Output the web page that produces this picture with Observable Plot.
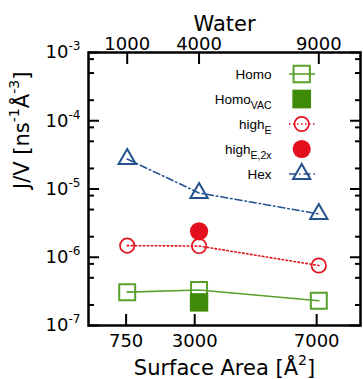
<!DOCTYPE html>
<html>
<head>
<meta charset="utf-8">
<script src="https://cdn.jsdelivr.net/npm/d3@7"></script>
<script src="https://cdn.jsdelivr.net/npm/@observablehq/plot@0.6"></script>
<style>
  html, body { margin: 0; padding: 0; background: #ffffff; }
  svg { display: block; }
</style>
</head>
<body>
<div id="chart"></div>
<script>
// ---- data ----
const waterCounts = [1000, 4000, 9000];          // top axis: number of waters
const homo        = [3.08e-7, 3.31e-7, 2.30e-7];
const homoVacWater = [4000];
const homoVac      = [2.18e-7];
const highE       = [1.48e-6, 1.46e-6, 7.57e-7];
const highE2xWater = [4000];
const highE2x      = [2.40e-6];
const hex         = [2.75e-5, 8.75e-6, 4.31e-6];

const waterTicks = [1000, 4000, 9000];
const areaTicks  = [750, 3000, 7000];            // bottom axis: surface area [Å²]
const waterPerArea = 1.273;                      // relation between bottom and top axes
const yMajor = [1e-7, 1e-6, 1e-5, 1e-4, 1e-3];
const yMinor = [2e-7, 5e-7, 8e-7, 2e-6, 5e-6, 8e-6, 2e-5, 5e-5, 8e-5, 2e-4, 5e-4, 8e-4];

const legendLabels = ["Homo", "Homo_{VAC}", "high_{E}", "high_{E,2x}", "Hex"];

const green = "#58a02a", darkGreen = "#3f8a06", red = "#e2101c", blue = "#23528f";

const rows = waterCounts.map((w, i) => ({w, homo: homo[i], highE: highE[i], hex: hex[i]}));
const vacRows = homoVacWater.map((w, i) => ({w, v: homoVac[i]}));
const e2xRows = highE2xWater.map((w, i) => ({w, v: highE2x[i]}));

const chart = Plot.plot({
  width: 363,
  height: 379,
  marginLeft: 88,
  marginRight: 3,
  marginTop: 52,
  marginBottom: 54,
  style: {fontFamily: "DejaVu Sans", background: "#ffffff", color: "#000"},
  x: {type: "linear", domain: [-616, 10741], axis: null},
  y: {type: "log", domain: [1e-7, 1e-3], axis: null},
  marks: [
    // ticks (inward)
    Plot.axisY({anchor: "left", ticks: yMajor, tickSize: -11, tickFormat: () => "", strokeWidth: 2, label: null}),
    Plot.axisY({anchor: "left", ticks: yMinor, tickSize: -6, tickFormat: () => "", strokeWidth: 2, label: null}),
    Plot.axisY({anchor: "right", ticks: yMajor, tickSize: -11, tickFormat: () => "", strokeWidth: 2, label: null}),
    Plot.axisY({anchor: "right", ticks: yMinor, tickSize: -6, tickFormat: () => "", strokeWidth: 2, label: null}),
    Plot.axisX({anchor: "top", ticks: waterTicks, tickSize: -11, tickFormat: () => "", strokeWidth: 2, label: null}),
    Plot.axisX({anchor: "bottom", ticks: areaTicks.map(a => a * waterPerArea), tickSize: -11, tickFormat: () => "", strokeWidth: 2, label: null}),
    // tick labels
    Plot.axisY({anchor: "left", ticks: yMajor, tickSize: 0, tickPadding: 8, fontSize: 18, label: null,
      tickFormat: d => `10^{${Math.round(Math.log10(d))}}`}),
    Plot.axisX({anchor: "top", ticks: waterTicks, tickSize: 0, tickPadding: 3, fontSize: 18, label: null,
      tickFormat: d => String(d)}),
    Plot.axisX({anchor: "bottom", ticks: areaTicks.map(a => a * waterPerArea), tickSize: 0, tickPadding: 9, fontSize: 18, label: null,
      tickFormat: d => String(Math.round(d / waterPerArea))}),
    // axis titles
    Plot.text(["Water"], {frameAnchor: "top", lineAnchor: "bottom", dy: -22, fontSize: 21}),
    Plot.text(["Surface Area [Å^{2}]"], {frameAnchor: "bottom", lineAnchor: "bottom", dy: 49, fontSize: 21}),
    Plot.text(["J/V [ns^{-1}Å^{-3}]"], {frameAnchor: "left", lineAnchor: "bottom", rotate: -90, dx: -60, fontSize: 21}),
    // series lines
    Plot.line(rows, {x: "w", y: "homo", stroke: green, strokeWidth: 1.6}),
    Plot.line(rows, {x: "w", y: "highE", stroke: red, strokeWidth: 1.6, strokeDasharray: "1.5 2.5"}),
    Plot.line(rows, {x: "w", y: "hex", stroke: blue, strokeWidth: 1.6, strokeDasharray: "7 3 1.5 3"}),
    // symbols
    Plot.dot(rows, {x: "w", y: "homo", symbol: "square", r: 9, fill: "none", stroke: green, strokeWidth: 2}),
    Plot.dot(rows, {x: "w", y: "highE", symbol: "circle", r: 7.2, fill: "none", stroke: red, strokeWidth: 1.7}),
    Plot.dot(rows, {x: "w", y: "hex", symbol: "triangle", r: 6.4, fill: "none", stroke: blue, strokeWidth: 2}),
    Plot.dot(vacRows, {x: "w", y: "v", symbol: "square", r: 10.4, fill: darkGreen, stroke: "none"}),
    Plot.dot(e2xRows, {x: "w", y: "v", symbol: "circle", r: 9.1, fill: red, stroke: "none"}),
    Plot.frame({stroke: "#000", strokeWidth: 2.5})
  ]
});

document.getElementById("chart").appendChild(chart);

// rich text: ^{...} superscript, _{...} subscript
function rich(el, str, fs, opt = {}) {
  const supShift = opt.sup ?? 0.44, subShift = opt.sub ?? 0.36, small = opt.small ?? 0.67;
  const t = d3.select(el);
  t.text(null);
  const re = /([\^_])\{([^}]*)\}/g;
  let last = 0, cur = 0, m;
  const parts = [];
  while ((m = re.exec(str))) {
    if (m.index > last) parts.push({s: str.slice(last, m.index), k: "n"});
    parts.push({s: m[2], k: m[1] === "^" ? "sup" : "sub"});
    last = re.lastIndex;
  }
  if (last < str.length) parts.push({s: str.slice(last), k: "n"});
  for (const p of parts) {
    const target = p.k === "sup" ? -supShift * fs : p.k === "sub" ? subShift * fs : 0;
    const ts = t.append("tspan").text(p.s);
    if (target !== cur) ts.attr("dy", target - cur);
    if (p.k !== "n") ts.attr("font-size", small * fs);
    cur = target;
  }
}

d3.select(chart).selectAll("text").each(function () {
  const s = this.textContent;
  if (/[\^_]\{/.test(s)) {
    const fs = parseFloat(getComputedStyle(this).fontSize) || 18;
    rich(this, s, fs);
  }
});

// legend (drawn in pixel layout inside the frame, upper right)
const lg = d3.select(chart).append("g").attr("class", "legend");
const legendStyle = [
  {c: green, sym: d3.symbolSquare, size: 265, fill: "none", line: true, dash: null, sw: 2},
  {c: darkGreen, sym: d3.symbolSquare, size: 350, fill: darkGreen, line: false},
  {c: red, sym: d3.symbolCircle, size: Math.PI * 7.2 * 7.2, fill: "none", line: true, dash: "1.5 2.5", sw: 1.7},
  {c: red, sym: d3.symbolCircle, size: Math.PI * 9.1 * 9.1, fill: red, line: false},
  {c: blue, sym: d3.symbolTriangle, size: Math.PI * 6.4 * 6.4, fill: "none", line: true, dash: "7 3 1.5 3", sw: 2}
];
legendLabels.forEach((lab, i) => {
  const y = 74 + 25 * i, st = legendStyle[i];
  const g = lg.append("g").attr("transform", `translate(0,${y})`);
  const txt = g.append("text").attr("x", 271.5).attr("y", 4.5)
    .attr("text-anchor", "end").attr("font-family", "Liberation Sans, Arial, sans-serif")
    .attr("font-size", 13.5).attr("fill", "#000");
  rich(txt.node(), lab, 13.5, {sub: 0.38, small: 0.78});
  if (st.line) {
    g.append("line").attr("x1", 289).attr("x2", 315).attr("y1", 0).attr("y2", 0)
      .attr("stroke", st.c).attr("stroke-width", 1.6).attr("stroke-dasharray", st.dash);
  }
  g.append("path").attr("transform", "translate(301.7,0)")
    .attr("d", d3.symbol(st.sym, st.size)())
    .attr("fill", st.fill).attr("stroke", st.fill === "none" ? st.c : "none")
    .attr("stroke-width", st.sw || 0);
});
</script>
</body>
</html>
